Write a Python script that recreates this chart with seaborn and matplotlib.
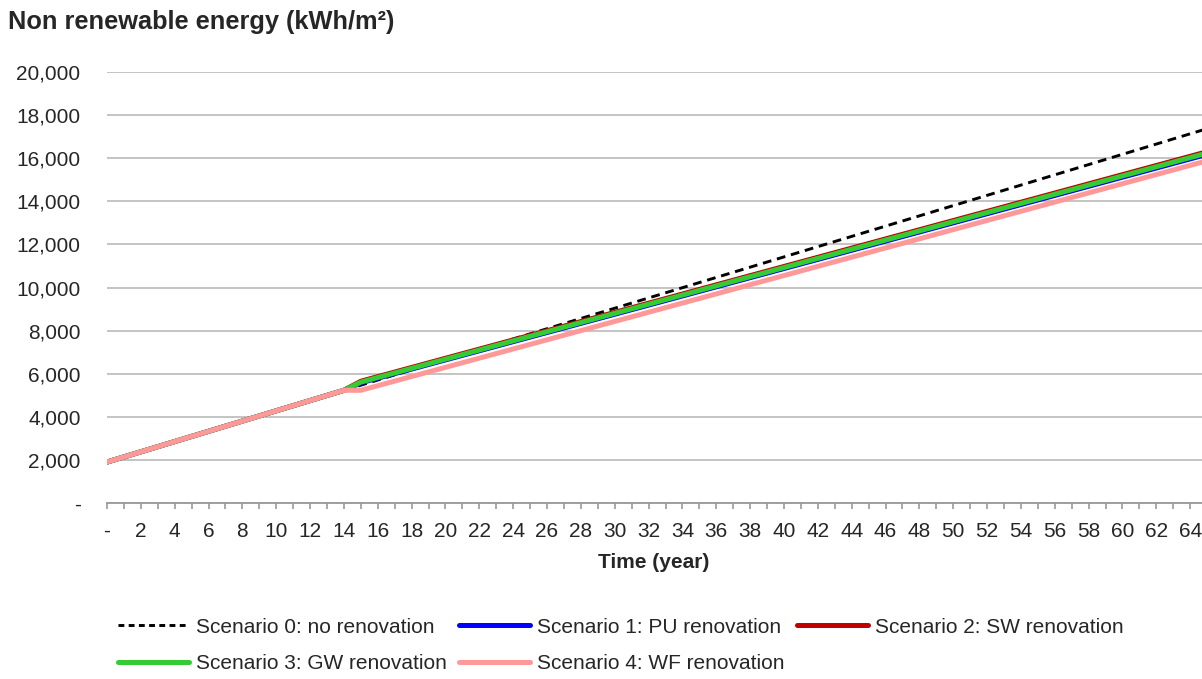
import matplotlib
matplotlib.use("Agg")
import matplotlib.pyplot as plt
import matplotlib.ticker as mticker
from matplotlib.lines import Line2D
import seaborn as sns

# breakpoints (year, kWh/m2); lines are straight between them
years_s0 = [0, 14, 65]
scenario0 = [1900, 5230, 17370]

years_ren = [0, 14, 15, 65]
scenario1 = [1900, 5230, 5580, 16180]
scenario2 = [1900, 5230, 5650, 16300]
scenario3 = [1900, 5230, 5610, 16240]
scenario4 = [1900, 5230, 5230, 15880]

labels = ["Scenario 0: no renovation", "Scenario 1: PU renovation",
          "Scenario 2: SW renovation", "Scenario 3: GW renovation",
          "Scenario 4: WF renovation"]
colors = ["black", "#0000FF", "#C00000", "#33CC33", "#FF9999"]

sns.set_style("white")
plt.rcParams["font.family"] = ["Liberation Sans", "DejaVu Sans"]

fig = plt.figure(figsize=(12.02, 6.79), dpi=100)
ax = fig.add_axes([107 / 1202, 1 - 503 / 679, 1 - 107 / 1202, (503 - 72) / 679])

series = [(years_s0, scenario0), (years_ren, scenario1), (years_ren, scenario2),
          (years_ren, scenario3), (years_ren, scenario4)]
for i, (xs, ys) in enumerate(series):
    if i == 0:
        sns.lineplot(x=xs, y=ys, ax=ax, color=colors[i], lw=2.1, linestyle=(0, (3, 2)), zorder=3)
    else:
        sns.lineplot(x=xs, y=ys, ax=ax, color=colors[i], lw=3.6, zorder=3 + i)

ax.set_xlim(0, 64.7)
ax.set_ylim(0, 20000)

# y axis
ax.yaxis.set_major_locator(mticker.MultipleLocator(2000))
ax.yaxis.set_major_formatter(mticker.FuncFormatter(lambda v, p: "-" if v == 0 else f"{v:,.0f}"))
ax.grid(axis="y", color="#BFBFBF", lw=1.3)
ax.grid(axis="x", visible=False)
ax.tick_params(axis="y", length=0, pad=19, labelsize=15)

# x axis: tick every year, label every two years
ax.xaxis.set_major_locator(mticker.MultipleLocator(1))
ax.xaxis.set_major_formatter(mticker.FuncFormatter(
    lambda v, p: "-" if v == 0 else (f"{v:.0f}" if round(v) % 2 == 0 else "")))
ax.tick_params(axis="x", direction="out", length=4, width=1.2, color="#999999",
               pad=9.5, labelsize=15, bottom=True)

for s in ["left", "right", "top"]:
    ax.spines[s].set_visible(False)
ax.spines["bottom"].set_color("#999999")
ax.spines["bottom"].set_linewidth(1.3)
ax.set_xlabel("")
ax.set_ylabel("")

fig.text(8 / 1202, 1 - 22 / 679, "Non renewable energy (kWh/m²)", fontsize=18.3,
         fontweight="bold", ha="left", va="center")
fig.text(654 / 1202, 1 - 562 / 679, "Time (year)", fontsize=15, fontweight="bold",
         ha="center", va="center")

handles = [Line2D([], [], color=colors[0], lw=2.1, linestyle=(0, (2, 1.5)))]
handles += [Line2D([], [], color=c, lw=3.6) for c in colors[1:]]

# three columns, filled row by row like the original
order = [0, 3, 1, 4, 2]
fig.legend([handles[k] for k in order], [labels[k] for k in order], ncol=3,
           loc="center left", bbox_to_anchor=(118 / 1202, 1 - 645.5 / 679),
           frameon=False, fontsize=15, handlelength=3.4, handletextpad=0.34,
           columnspacing=0.6, labelspacing=0.84, borderpad=0, borderaxespad=0)

fig.savefig("out.png", dpi=100)
